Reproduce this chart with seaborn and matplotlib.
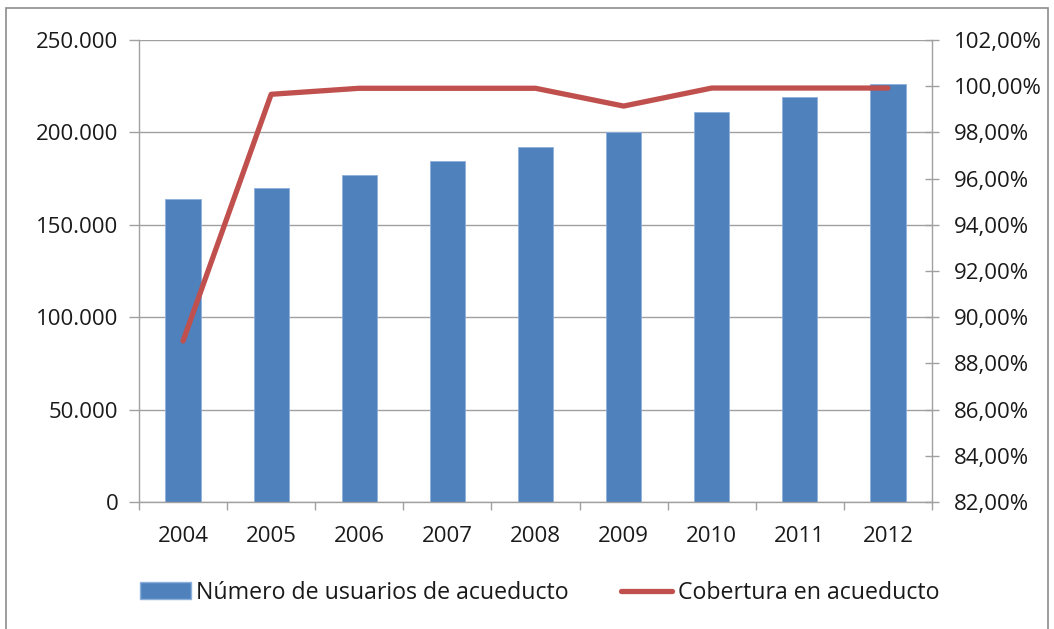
import numpy as np
import pandas as pd
import matplotlib

matplotlib.use("Agg")
import matplotlib.pyplot as plt
import seaborn as sns
from matplotlib.ticker import FuncFormatter, FixedLocator
from matplotlib.lines import Line2D
from matplotlib.patches import Patch, Rectangle

# datos
years = ["2004", "2005", "2006", "2007", "2008", "2009", "2010", "2011", "2012"]
usuarios = [163800, 169900, 176800, 184300, 192100, 200400, 210900, 219200, 226300]
cobertura = [88.97, 99.65, 99.91, 99.91, 99.91, 99.14, 99.92, 99.92, 99.92]

BAR_COLOR = "#4F81BD"
LINE_COLOR = "#C0504D"
GRID = "#A0A0A0"
TEXT = "#1a1a1a"
FS = 16

sns.set_theme(style="white")
plt.rcParams["font.family"] = ["Open Sans", "DejaVu Sans"]

df = pd.DataFrame({"anio": years, "usuarios": usuarios, "cobertura": cobertura})

W, H = 1054, 629
fig = plt.figure(figsize=(W / 100, H / 100), dpi=100)
ax = fig.add_axes([139 / W, 1 - 502 / H, (932 - 139) / W, (502 - 40) / H])

sns.barplot(data=df, x="anio", y="usuarios", color=BAR_COLOR, width=0.4,
            saturation=1, edgecolor="#8DB0DC", linewidth=0.6, ax=ax, zorder=2)
ax.set_xlim(-0.5, len(years) - 0.5)
ax.set_ylim(0, 250000)
ax.yaxis.set_major_locator(FixedLocator(np.arange(0, 250001, 50000)))
ax.yaxis.set_major_formatter(FuncFormatter(lambda v, p: f"{int(v):,}".replace(",", ".")))
ax.grid(axis="y", color=GRID, linewidth=1, zorder=0)
ax.set_axisbelow(True)
ax.set_xlabel("")
ax.set_ylabel("")

# ticks del eje x entre categorías
ax.xaxis.set_minor_locator(FixedLocator(np.arange(-0.5, len(years), 1.0)))
ax.tick_params(axis="x", which="major", length=0, pad=17, labelsize=FS, labelcolor=TEXT)
ax.tick_params(axis="x", which="minor", length=6, color=GRID, width=1, direction="out", bottom=True)
ax.tick_params(axis="y", length=7, color=GRID, width=1, direction="out", left=True,
               labelsize=FS, labelcolor=TEXT, pad=8)

for s in ["top", "right"]:
    ax.spines[s].set_visible(False)
for s in ["left", "bottom"]:
    ax.spines[s].set_color(GRID)
    ax.spines[s].set_linewidth(1)

ax2 = ax.twinx()
sns.lineplot(data=df, x="anio", y="cobertura", color=LINE_COLOR, linewidth=3.8,
             solid_capstyle="round", ax=ax2, zorder=3)
ax2.set_xlim(-0.5, len(years) - 0.5)
ax2.set_ylim(82, 102)
ax2.yaxis.set_major_locator(FixedLocator(np.arange(82, 102.1, 2)))
ax2.yaxis.set_major_formatter(FuncFormatter(lambda v, p: f"{v:.2f}%".replace(".", ",")))
ax2.set_ylabel("")
ax2.set_xlabel("")
ax2.tick_params(axis="y", length=10, color=GRID, width=1, direction="inout", right=True,
                labelsize=FS, labelcolor=TEXT, pad=11)
for s in ["top", "left", "bottom"]:
    ax2.spines[s].set_visible(False)
ax2.spines["right"].set_color(GRID)
ax2.spines["right"].set_linewidth(1)

handles = [
    Patch(facecolor=BAR_COLOR, edgecolor="#8DB0DC", label="Número de usuarios de acueducto"),
    Line2D([0], [0], color=LINE_COLOR, linewidth=3.8, label="Cobertura en acueducto"),
]
fig.legend(handles=handles, loc="center", bbox_to_anchor=(0.512, 1 - 593 / H), ncol=2,
           frameon=False, fontsize=16.7, handlelength=2.2, handleheight=0.75,
           handletextpad=0.25, columnspacing=2.25, labelcolor=TEXT)

# marco exterior del gráfico
fig.patches.append(Rectangle((6 / W, -0.01), 1042 / W, 1 - 8 / H + 0.01,
                             transform=fig.transFigure, fill=False,
                             edgecolor="#8C8C8C", linewidth=1.2))

fig.savefig("out.png", dpi=100)
plt.close(fig)
